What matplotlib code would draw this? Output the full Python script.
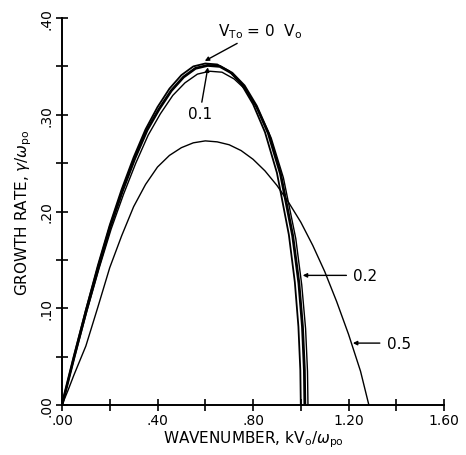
import matplotlib
matplotlib.use('Agg')
import matplotlib.pyplot as plt
from matplotlib.ticker import MultipleLocator

plt.rcParams['font.family'] = ['DejaVu Sans']
plt.rcParams['mathtext.fontset'] = 'dejavusans'

# wavenumber / growth rate, one pair of lists per thermal speed
k_v00 = [0, .05, .10, .15, .20, .25, .30, .35, .40, .45, .50, .55, .60, .65,
         .70, .75, .80, .85, .90, .95, .975, .99, .998, 1.0]
g_v00 = [0, .050, .098, .144, .186, .223, .256, .285, .308, .327, .341, .350, .353, .352,
         .345, .332, .311, .282, .240, .176, .127, .081, .036, 0]

k_v01 = [0, .052, .103, .155, .206, .258, .309, .361, .412, .464, .515, .567, .618, .670,
         .721, .773, .824, .876, .927, .979, 1.004, 1.020, 1.028, 1.030]
g_v01 = [0, .049, .096, .141, .182, .218, .250, .279, .301, .320, .333, .342, .345, .344,
         .337, .325, .304, .276, .235, .172, .124, .079, .035, 0]

k_v02 = [0, .051, .102, .153, .203, .254, .305, .356, .407, .458, .509, .559, .610, .661,
         .712, .763, .814, .864, .915, .966, .992, 1.007, 1.015, 1.017]
g_v02 = [0, .050, .098, .143, .185, .222, .255, .284, .306, .325, .339, .348, .351, .350,
         .343, .330, .309, .281, .239, .175, .126, .081, .036, 0]

k_v05 = [0, .025, .05, .075, .10, .15, .20, .25, .30, .35, .40, .45, .50, .55, .60, .65,
         .70, .75, .80, .85, .90, .95, 1.00, 1.05, 1.10, 1.15, 1.20, 1.25, 1.285]
g_v05 = [0, .015, .031, .046, .061, .101, .142, .175, .205, .228, .246, .258, .266, .271,
         .273, .272, .269, .263, .254, .242, .227, .209, .189, .165, .138, .107, .073, .035, 0]

x_ticks = [0.0, 0.4, 0.8, 1.2, 1.6]
x_labels = ['.00', '.40', '.80', '1.20', '1.60']
y_ticks = [0.0, 0.1, 0.2, 0.3, 0.4]
y_labels = ['.00', '.10', '.20', '.30', '.40']

fig = plt.figure(figsize=(4.66, 4.56), dpi=100)
ax = fig.add_axes([0.133, 0.1096, 0.82, 0.8487])

ax.plot(k_v05, g_v05, color='black', lw=1.0)
ax.plot(k_v01, g_v01, color='black', lw=1.0)
ax.plot(k_v00, g_v00, color='black', lw=1.3)
ax.plot(k_v02, g_v02, color='black', lw=2.0)

ax.set_xlim(0, 1.6)
ax.set_ylim(0, 0.4)
for side in ['top', 'right']:
    ax.spines[side].set_visible(False)
for side in ['left', 'bottom']:
    ax.spines[side].set_linewidth(1.4)

ax.set_xticks(x_ticks)
ax.set_xticklabels(x_labels, fontsize=10)
ax.set_yticks(y_ticks)
ax.set_yticklabels(y_labels, fontsize=10, rotation=90, va='center')
ax.xaxis.set_minor_locator(MultipleLocator(0.2))
ax.yaxis.set_minor_locator(MultipleLocator(0.05))
ax.tick_params(which='both', direction='inout', length=8, width=1.2, pad=2)

ax.set_xlabel(r'WAVENUMBER, kV$_{\mathrm{o}}$/$\omega_{\mathrm{po}}$', fontsize=11, labelpad=1)
ax.set_ylabel(r'GROWTH RATE, $\gamma/\omega_{\mathrm{po}}$', fontsize=11, labelpad=4)

arrow = dict(arrowstyle='-|>', color='black', lw=1.0, mutation_scale=6, shrinkA=1, shrinkB=0)
ax.annotate(r'V$_{\mathrm{To}}$ = 0  V$_{\mathrm{o}}$', xy=(0.598, 0.3556), xytext=(0.655, 0.387),
            fontsize=11, ha='left', va='center', arrowprops=arrow)
ax.annotate('0.1', xy=(0.611, 0.349), xytext=(0.577, 0.301),
            fontsize=11, ha='center', va='center', arrowprops=arrow)
ax.annotate('0.2', xy=(1.008, 0.134), xytext=(1.22, 0.134),
            fontsize=11, ha='left', va='center', arrowprops=dict(arrow, shrinkA=3))
ax.annotate('0.5', xy=(1.218, 0.064), xytext=(1.36, 0.064),
            fontsize=11, ha='left', va='center', arrowprops=dict(arrow, shrinkA=3))

fig.savefig('out.png', dpi=100)
